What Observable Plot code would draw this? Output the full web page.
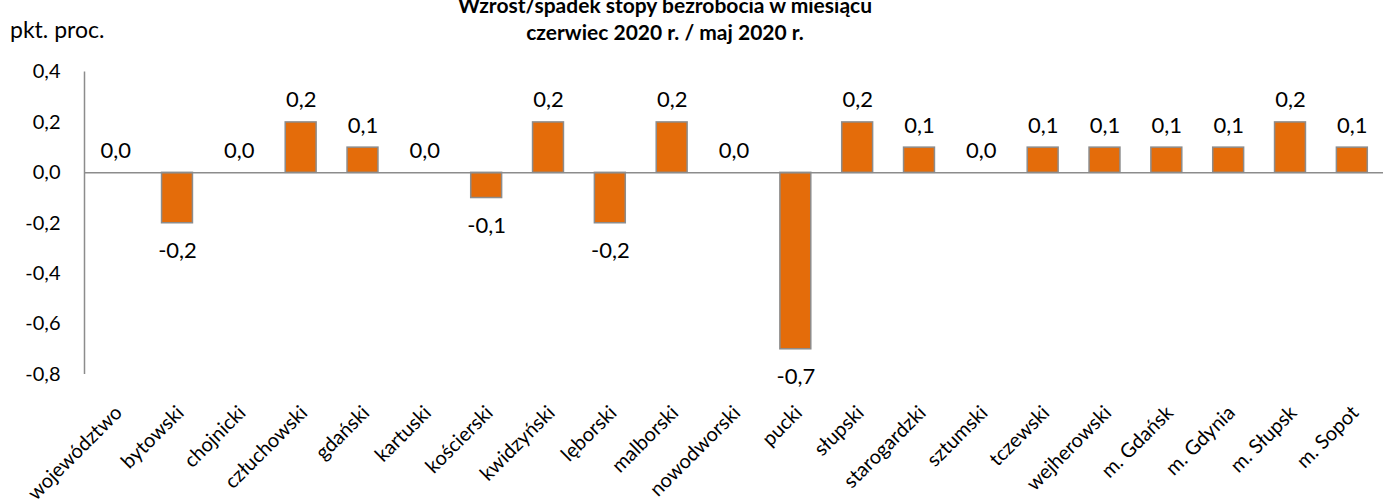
<!DOCTYPE html>
<html><head><meta charset="utf-8">
<script src="https://cdn.jsdelivr.net/npm/d3@7"></script>
<script src="https://cdn.jsdelivr.net/npm/@observablehq/plot@0.6"></script>
<style>
body{margin:0;background:#fff;font-family:Lato,"Open Sans",sans-serif;}
#wrap{position:relative;width:1383px;height:502px;overflow:hidden;}
#title{position:absolute;left:0;width:1330px;top:-9px;text-align:center;font-weight:bold;font-size:21px;line-height:27px;color:#000;}
#unit{position:absolute;left:10px;top:15px;font-size:23px;color:#000;}
#chart{position:absolute;left:0;top:0;}
</style></head><body>
<div id="wrap">
<div id="chart"></div>
<div id="title">Wzrost/spadek stopy bezrobocia w miesiącu<br>czerwiec 2020 r. / maj 2020 r.</div>
<div id="unit">pkt. proc.</div>
</div>
<script>
const categories = ["województwo","bytowski","chojnicki","człuchowski","gdański","kartuski","kościerski","kwidzyński","lęborski","malborski","nowodworski","pucki","słupski","starogardzki","sztumski","tczewski","wejherowski","m. Gdańsk","m. Gdynia","m. Słupsk","m. Sopot"];
const values = [0.0,-0.2,0.0,0.2,0.1,0.0,-0.1,0.2,-0.2,0.2,0.0,-0.7,0.2,0.1,0.0,0.1,0.1,0.1,0.1,0.2,0.1];
const yTicks = [0.4,0.2,0.0,-0.2,-0.4,-0.6,-0.8];

const data = categories.map((c,i)=>({cat:c, v:values[i]}));
const fmt = v => (Math.abs(v) < 1e-9 ? 0 : v).toFixed(1).replace(".", ",");
const orange = "#E46C0A", gray = "#8C8C8C";

const W = 1383, mL = 84, mR = 0, pI = 0.5, pO = 0.254;
const step = (W - mL - mR) / (categories.length - pI + 2 * pO);
const leftOffset = -(pO * step + step * (1 - pI) / 2);

const chart = Plot.plot({
  width: W, height: 502,
  marginTop: 71.5, marginBottom: 128, marginLeft: mL, marginRight: mR,
  style: {fontFamily: "Lato, 'Open Sans', sans-serif", background: "#fff", color: "#000"},
  x: {domain: categories, paddingInner: pI, paddingOuter: pO, round: false, label: null},
  y: {domain: [-0.8, 0.4], label: null},
  marks: [
    Plot.barY(data.filter(d => d.v !== 0), {x: "cat", y: "v", fill: orange, stroke: gray, strokeWidth: 1.5}),
    Plot.ruleY([0], {stroke: gray, strokeWidth: 1.5}),
    Plot.ruleX([0], {x: () => categories[0], dx: leftOffset, y1: -0.8, y2: 0.4, stroke: gray, strokeWidth: 1.5}),
    Plot.axisY({ticks: yTicks, tickFormat: fmt, tickSize: 0, tickPadding: 24, fontSize: 20, textAnchor: "end"}),
    Plot.axisX({tickSize: 0, tickRotate: -45, tickPadding: 35, dx: 3, fontSize: 20}),
    Plot.text(data.filter(d => d.v >= 0), {x: "cat", y: "v", text: d => fmt(d.v), lineAnchor: "bottom", dy: -15, fontSize: 22}),
    Plot.text(data.filter(d => d.v < 0), {x: "cat", y: "v", text: d => fmt(d.v), lineAnchor: "top", dy: 19, fontSize: 22})
  ]
});
document.getElementById("chart").appendChild(chart);
</script>
</body></html>
